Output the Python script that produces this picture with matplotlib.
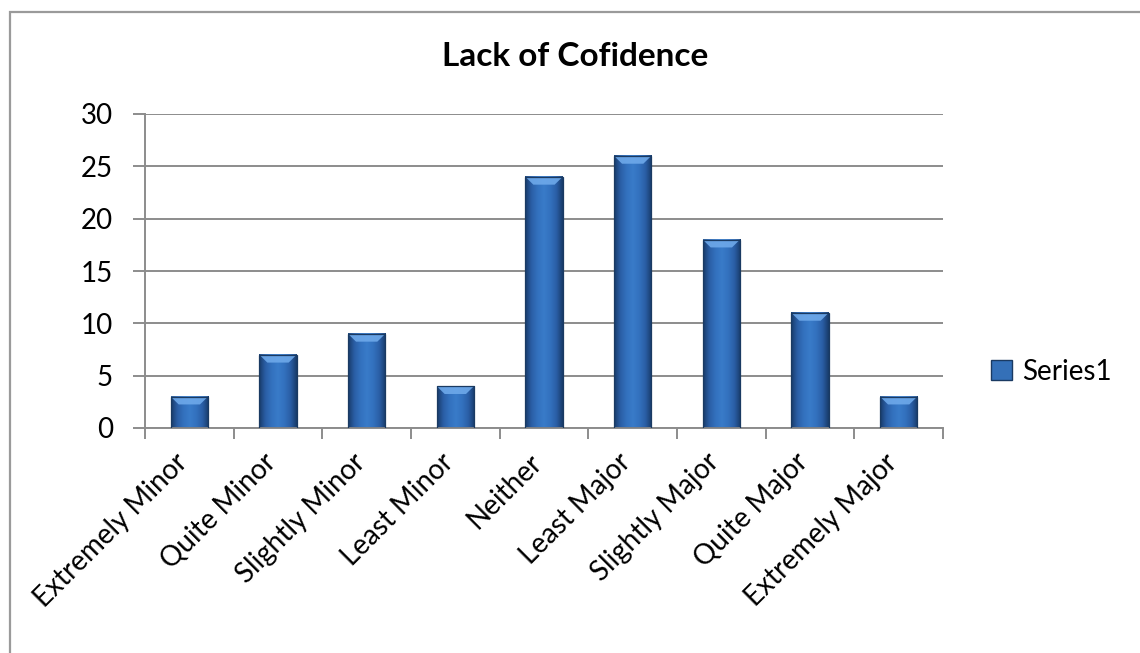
import matplotlib
matplotlib.use("Agg")
import matplotlib.pyplot as plt
import numpy as np
from matplotlib.colors import LinearSegmentedColormap
from matplotlib.patches import Polygon, Patch
from matplotlib.lines import Line2D

categories = ["Extremely Minor", "Quite Minor", "Slightly Minor", "Least Minor",
              "Neither", "Least Major", "Slightly Major", "Quite Major", "Extremely Major"]
values = [3, 7, 9, 4, 24, 26, 18, 11, 3]
series_name = "Series1"
title = "Lack of Cofidence"
yticks = [0, 5, 10, 15, 20, 25, 30]

plt.rcParams['font.family'] = ['Lato', 'DejaVu Sans']

W, H = 1140, 653
fig = plt.figure(figsize=(W / 100, H / 100), dpi=100)
fig.patch.set_facecolor('white')

# outer chart border (left and top edges only visible)
bx, by = 10.5 / W, 1 - 11.5 / H
fig.add_artist(Line2D([bx, bx, 1.0], [0.0, by, by], transform=fig.transFigure,
                      color='#9a9a9a', linewidth=1.6, solid_joinstyle='miter'))

ax = fig.add_axes([145 / W, (H - 428) / H, (943 - 145) / W, (428 - 114) / H])

ax.set_yticks(yticks)
ax.set_yticklabels([str(t) for t in yticks], fontsize=20, color='black')
ax.yaxis.grid(True, color='#8c8c8c', linewidth=1.4)
ax.set_axisbelow(True)
for s in ['top', 'right']:
    ax.spines[s].set_visible(False)
for s in ['left', 'bottom']:
    ax.spines[s].set_color('#8c8c8c')
    ax.spines[s].set_linewidth(1.4)
ax.tick_params(axis='y', length=9, width=1.4, color='#8c8c8c', pad=14)

# x ticks at category boundaries
ax.set_xticks(np.arange(-0.5, len(categories) + 0.5, 1.0))
ax.set_xticklabels([])
ax.tick_params(axis='x', length=8, width=1.4, color='#8c8c8c')
xpos = np.arange(len(categories))
for i, lab in enumerate(categories):
    ax.text(xpos[i] - 0.17, -2.0, lab, rotation=45, ha='right', va='top',
            rotation_mode='anchor', fontsize=20, transform=ax.transData, clip_on=False)

bars = ax.bar(xpos, values, width=0.42, color='none', edgecolor='#1a3a62',
              linewidth=0.9, zorder=3, label=series_name)

cmap = LinearSegmentedColormap.from_list(
    'bar', ['#173a68', '#2a5ea5', '#3371be', '#397bc9', '#3371be', '#2a5ea5', '#173a68'])
grad = np.linspace(0, 1, 256).reshape(1, -1)
for p in bars.patches:
    x0, y0, w, h = p.get_x(), p.get_y(), p.get_width(), p.get_height()
    ax.imshow(grad, cmap=cmap, extent=[x0, x0 + w, y0, y0 + h], aspect='auto',
              zorder=2.5, interpolation='bicubic')
    # top bevel
    dx, dy = 0.09, 0.75
    bevel = Polygon([[x0, y0 + h], [x0 + w, y0 + h], [x0 + w - dx, y0 + h - dy],
                     [x0 + dx, y0 + h - dy]], closed=True, facecolor='#6ea9ea',
                    edgecolor='none', alpha=0.9, zorder=2.8)
    ax.add_patch(bevel)
ax.set_xlim(-0.5, len(categories) - 0.5)
ax.set_ylim(0, 30)

# legend
handle = Patch(facecolor='#3470b8', edgecolor='#1a3a62', label=series_name)
fig.legend(handles=[handle], loc='center left', bbox_to_anchor=(980 / W, 1 - 372 / H),
           frameon=False, fontsize=20, handlelength=0.75, handleheight=0.75,
           handletextpad=0.35, borderaxespad=0)

fig.text(575 / W, 1 - 57 / H, title, ha='center', va='center', fontsize=24,
         fontweight='bold')

fig.savefig('out.png', dpi=100)
